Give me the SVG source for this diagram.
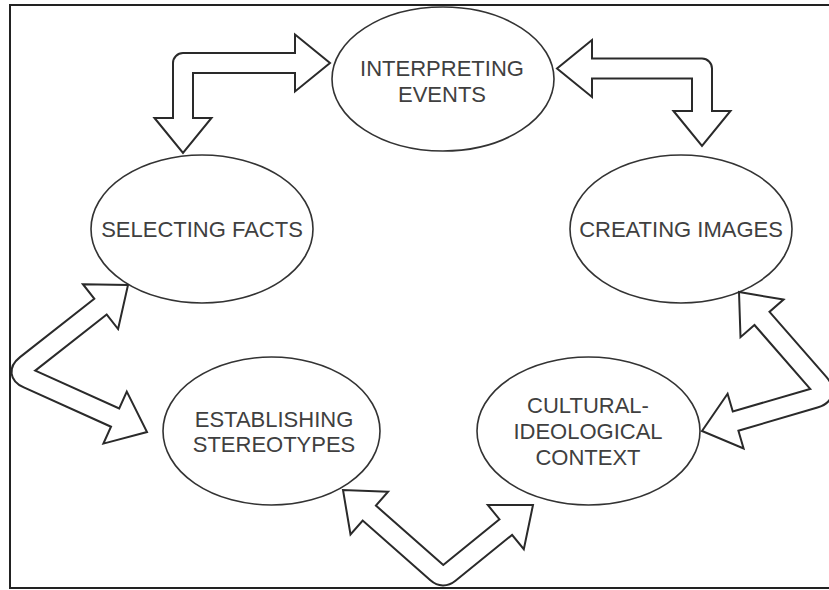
<svg xmlns="http://www.w3.org/2000/svg" width="829" height="590" viewBox="0 0 829 590">
  <style>
    .frame { fill: none; stroke: #222; stroke-width: 2; }
    .node ellipse { fill: #fff; stroke: #333; stroke-width: 1.6; }
    .node text { font-family: "Liberation Sans", Arial, sans-serif; font-size: 22px; fill: #404040; text-anchor: middle; }
    .shaft-out { fill: none; stroke: #2a2a2a; stroke-width: 22; stroke-linejoin: round; stroke-linecap: butt; }
    .shaft-in { fill: none; stroke: #fff; stroke-width: 18; stroke-linejoin: round; stroke-linecap: butt; }
    .head { fill: #fff; stroke: #2a2a2a; stroke-width: 2; stroke-linejoin: miter; }
  </style>

  <rect class="frame" x="10" y="5" width="830" height="583"/>

  <g id="interpreting-events" class="node">
    <ellipse cx="443" cy="79" rx="111" ry="72"/>
    <text x="442" y="76">INTERPRETING</text>
    <text x="442" y="102">EVENTS</text>
  </g>

  <g id="selecting-facts" class="node">
    <ellipse cx="202" cy="229" rx="111" ry="74"/>
    <text x="202" y="237">SELECTING FACTS</text>
  </g>

  <g id="creating-images" class="node">
    <ellipse cx="681" cy="229" rx="111" ry="74"/>
    <text x="681" y="237">CREATING IMAGES</text>
  </g>

  <g id="establishing-stereotypes" class="node">
    <ellipse cx="271.5" cy="431" rx="108.5" ry="74"/>
    <text x="274" y="427">ESTABLISHING</text>
    <text x="274" y="452">STEREOTYPES</text>
  </g>

  <g id="cultural-ideological-context" class="node">
    <ellipse cx="588.5" cy="431" rx="111.5" ry="74"/>
    <text x="588" y="413">CULTURAL-</text>
    <text x="588" y="439">IDEOLOGICAL</text>
    <text x="588" y="465">CONTEXT</text>
  </g>

  <g id="connectors">
    <!-- selecting facts <-> interpreting events -->
    <g id="arrow-selecting-interpreting">
      <path class="shaft-out" d="M183 118 L183 63 L295 63"/>
      <polygon class="head" points="154.5,118 183,153 211.5,118"/>
      <polygon class="head" points="295,34.5 330,63 295,91.5"/>
      <path class="shaft-in" d="M183 120 L183 63 L297 63"/>
    </g>
    <!-- interpreting events <-> creating images -->
    <g id="arrow-interpreting-creating">
      <path class="shaft-out" d="M592 68.5 L702 68.5 L702 111"/>
      <polygon class="head" points="592,40 557,68.5 592,97"/>
      <polygon class="head" points="673.5,111 702,146 730.5,111"/>
      <path class="shaft-in" d="M590 68.5 L702 68.5 L702 113"/>
    </g>
    <!-- selecting facts <-> establishing stereotypes -->
    <g id="arrow-selecting-establishing">
      <path class="shaft-out" d="M100.5 306.6 L26.2 365 Q16 373 27.9 378.3 L115.1 417.6"/>
      <polygon class="head" points="82.9,284.2 128,285 118.1,329"/>
      <polygon class="head" points="126.8,391.6 147,432 103.4,443.6"/>
      <path class="shaft-in" d="M102.1 305.4 L26.2 365 Q16 373 27.9 378.3 L116.9 418.4"/>
    </g>
    <!-- creating images <-> cultural-ideological context -->
    <g id="arrow-creating-cultural">
      <path class="shaft-out" d="M762 318.4 L818.8 383.5 Q828 394 814.6 398 L735.6 421.1"/>
      <polygon class="head" points="783.5,299.6 739,292 740.5,337.2"/>
      <polygon class="head" points="727.6,393.8 702,431 743.6,448.4"/>
      <path class="shaft-in" d="M760.7 316.9 L818.8 383.5 Q828 394 814.6 398 L733.7 421.7"/>
    </g>
    <!-- establishing stereotypes <-> cultural-ideological context -->
    <g id="arrow-establishing-cultural">
      <path class="shaft-out" d="M369.3 513.1 L437 572.7 Q443 578 449.2 573 L505.8 527.1"/>
      <polygon class="head" points="388.1,491.7 343,490 350.5,534.5"/>
      <polygon class="head" points="487.8,505 533,505 523.8,549.2"/>
      <path class="shaft-in" d="M367.8 511.8 L437 572.7 Q443 578 449.2 573 L507.4 525.8"/>
    </g>
  </g>
</svg>
